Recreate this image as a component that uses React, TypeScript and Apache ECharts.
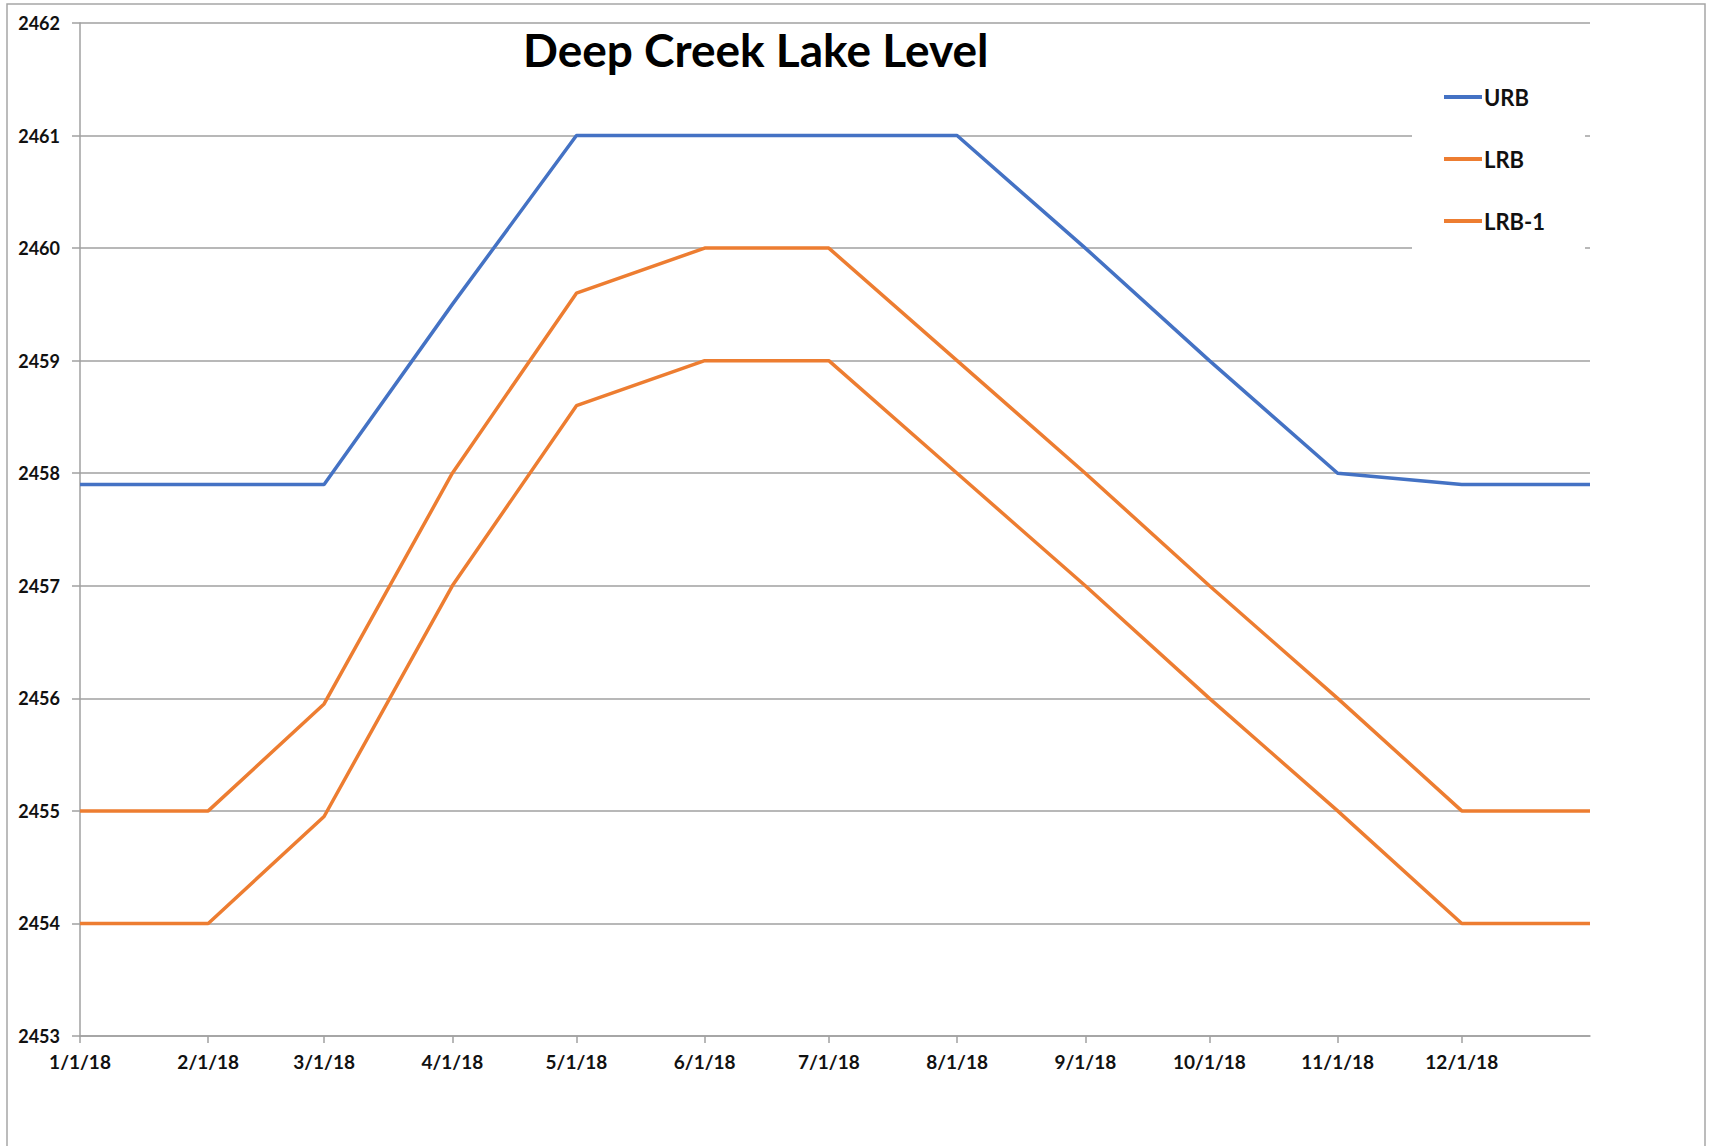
import React, { useEffect, useRef } from "react";
import * as echarts from "echarts";

const dates = [
  "2018-01-01", "2018-02-01", "2018-03-01", "2018-04-01", "2018-05-01", "2018-06-01",
  "2018-07-01", "2018-08-01", "2018-09-01", "2018-10-01", "2018-11-01", "2018-12-01", "2019-01-01",
];
const urb = [2457.9, 2457.9, 2457.9, 2459.5, 2461, 2461, 2461, 2461, 2460, 2459, 2458, 2457.9, 2457.9];
const lrb = [2455, 2455, 2455.95, 2458, 2459.6, 2460, 2460, 2459, 2458, 2457, 2456, 2455, 2455];
const lrb1 = [2454, 2454, 2454.95, 2457, 2458.6, 2459, 2459, 2458, 2457, 2456, 2455, 2454, 2454];
const seriesNames = ["URB", "LRB", "LRB-1"];
const seriesColors = ["#4472C4", "#ED7D31", "#ED7D31"];
const title = "Deep Creek Lake Level";
const yMin = 2453;
const yMax = 2462;
const xMin = "2018-01-01";
const xMax = "2019-01-01";

const FONT = "Lato";

export default function App() {
  const ref = useRef<HTMLDivElement>(null);
  useEffect(() => {
    if (!ref.current) return;
    const chart = echarts.init(ref.current, undefined, { renderer: "svg" });
    const all = [urb, lrb, lrb1];
    chart.setOption({
      animation: false,
      backgroundColor: "#ffffff",
      title: {
        text: title,
        left: 518,
        top: 21,
        textStyle: { fontFamily: FONT, fontWeight: "bold", fontSize: 46, color: "#000" },
      },
      graphic: [
        {
          type: "rect",
          shape: { x: 7, y: 4, width: 1698, height: 1160 },
          style: { fill: "none", stroke: "#a6a6a6", lineWidth: 1.5 },
          silent: true,
          z: -1,
        },
      ],
      legend: {
        orient: "vertical",
        left: 1412,
        top: 70,
        padding: [16, 40, 19, 32],
        backgroundColor: "#ffffff",
        icon: "rect",
        itemWidth: 38,
        itemHeight: 4,
        itemGap: 40,
        textStyle: { fontFamily: FONT, fontWeight: "bold", fontSize: 22, color: "#111", lineHeight: 22, padding: [0, 0, 0, -3] },
        data: seriesNames,
        z: 10,
      },
      grid: { left: 80, right: 122, top: 23, bottom: 110, containLabel: false },
      xAxis: {
        type: "time",
        min: xMin,
        max: xMax,
        splitNumber: 12,
        minInterval: 28 * 86400000,
        maxInterval: 31 * 86400000,
        axisLine: { show: true, lineStyle: { color: "#a0a0a0", width: 1.5 } },
        axisTick: { show: true, length: 7, lineStyle: { color: "#a0a0a0", width: 1.5 } },
        splitLine: { show: false },
        axisLabel: {
          showMaxLabel: false,
          margin: 16,
          fontFamily: FONT,
          fontWeight: "bold",
          fontSize: 19,
          color: "#111",
          formatter: (v: number) => {
            const d = new Date(v);
            return `${d.getMonth() + 1}/${d.getDate()}/${String(d.getFullYear()).slice(2)}`;
          },
        },
      },
      yAxis: {
        type: "value",
        min: yMin,
        max: yMax,
        interval: 1,
        axisLine: { show: true, lineStyle: { color: "#a0a0a0", width: 1.5 } },
        axisTick: { show: true, length: 8, lineStyle: { color: "#a0a0a0", width: 1.5 } },
        splitLine: { show: true, lineStyle: { color: "#a0a0a0", width: 1.5 } },
        axisLabel: {
          margin: 20,
          fontFamily: FONT,
          fontWeight: "bold",
          fontSize: 18,
          color: "#111",
          formatter: (v: number) => String(v),
        },
      },
      series: seriesNames.map((name, i) => ({
        name,
        type: "line",
        data: dates.map((d, j) => [d, all[i][j]]),
        showSymbol: false,
        symbol: "none",
        lineStyle: { color: seriesColors[i], width: 3.5 },
        itemStyle: { color: seriesColors[i] },
      })),
    });
    return () => chart.dispose();
  }, []);
  return (
    <div
      ref={ref}
      style={{ position: "fixed", left: 0, top: 0, width: 1712, height: 1146 }}
    />
  );
}
